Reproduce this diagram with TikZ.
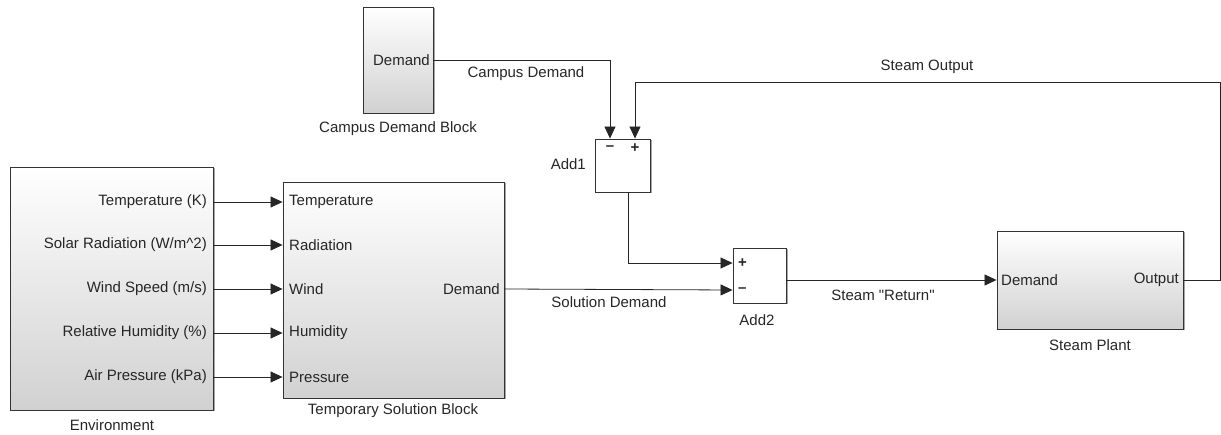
\documentclass[tikz,border=0pt]{standalone}
\usepackage{fontspec}
\setmainfont{Liberation Sans}[Ligatures=TeXOff]
\usetikzlibrary{arrows.meta,shadows}
\newcommand\simfont{\fontsize{15}{18}\selectfont}
\tikzset{
  block/.style={draw=black!80, line width=0.9pt, top color=white, middle color=black!4,
    bottom color=black!18, drop shadow={shadow xshift=1.5pt, shadow yshift=-1.5pt,
    fill=black!35, opacity=1}},
  sumbox/.style={draw=black!80, line width=0.9pt, fill=white, drop shadow={shadow xshift=1.5pt,
    shadow yshift=-1.5pt, fill=black!35, opacity=1}},
  sig/.style={draw=black!85, line width=0.8pt, -{Triangle[length=12pt,width=11pt]}}
}
\begin{document}
\begin{tikzpicture}[x=1pt, y=-1pt, font=\simfont, inner sep=2pt, text=black!85]
  \useasboundingbox (0,0) rectangle (1221,435);
  % blocks
  \node[block, minimum width=203pt, minimum height=243pt] (env) at (111.5,288.5) {};
  \node[block, minimum width=221pt, minimum height=216pt] (tsb) at (393.5,290) {};
  \node[block, minimum width=70pt, minimum height=106pt] (cdb) at (398,60) {};
  \node[block, minimum width=186pt, minimum height=98pt] (sp) at (1090,280) {};
  \node[sumbox, minimum width=55pt, minimum height=53pt] (a1) at (622.5,165.5) {};
  \node[sumbox, minimum width=53pt, minimum height=55pt] (a2) at (759.5,275.5) {};
  % block names
  \node (envl) at (112,425) {Environment};
  \node (tsbl) at (393,411) {Temporary Solution Block};
  \node (cdbl) at (398,129) {Campus Demand Block};
  \node (spl) at (1090,345) {Steam Plant};
  \node[anchor=east] (a1l) at (588,164) {Add1};
  \node (a2l) at (757,320) {Add2};
  % port texts
  \node[anchor=east] (cdo) at (432,60) {Demand};
  \node[anchor=east] (tso) at (502,289) {Demand};
  \node[anchor=west] (spi) at (999,280) {Demand};
  \node[anchor=east] (spo) at (1181,280) {Output};
  \node (a1m) at (610,148) {\textbf{–}};
  \node (a1p) at (635,148) {\textbf{+}};
  \node[anchor=west] (a2p) at (736,263) {\textbf{+}};
  \node[anchor=west] (a2m) at (736,290) {\textbf{–}};
  \coordinate (fb) at (1220,82);
  % environment to solution block
  \foreach \y/\o/\n [count=\k] in {202/Temperature (K)/Temperature,
      245/{Solar Radiation (W/m\textasciicircum 2)}/Radiation, 289/{Wind Speed (m/s)}/Wind,
      333/Relative Humidity (\%)/Humidity, 377/Air Pressure (kPa)/Pressure} {
    \node[anchor=east] (eo\k) at (209,\y) {\o};
    \node[anchor=west] (ti\k) at (287,\y) {\n};
    \draw[sig] (env.east |- eo\k) -- (tsb.west |- ti\k);
  }
  % signals
  \draw[sig] (cdb.east |- cdo) -| (a1m |- a1.north);
  \draw[sig] (sp.east |- spo) -| (fb) -| (a1p |- a1.north);
  \draw[sig] ([xshift=5.5pt]a1.south) |- (a2.west |- a2p);
  \draw[sig] (tsb.east |- tso) -- (a2.west |- a2m);
  \draw[sig] (a2.east |- spi) -- (sp.west |- spi);
  % signal names
  \node (cdn) at (526,74) {Campus Demand};
  \node (son) at (927,67) {Steam Output};
  \node (sdn) at (609,302) {Solution Demand};
  \node (srn) at (883,295) {Steam "Return"};
\end{tikzpicture}
\end{document}
